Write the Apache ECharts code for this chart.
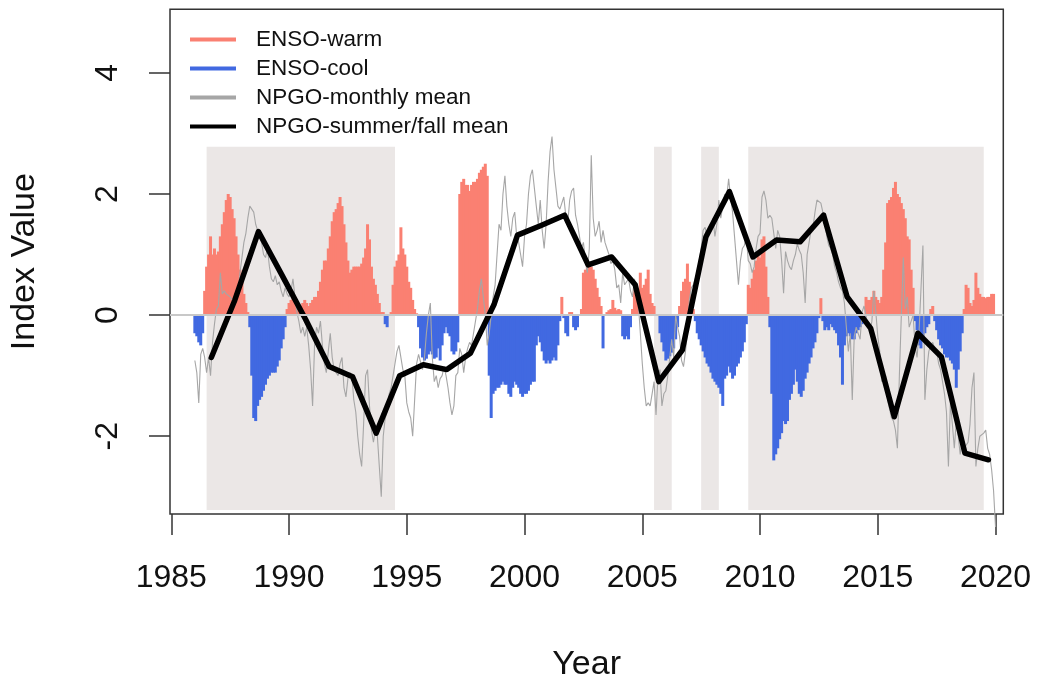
<!DOCTYPE html>
<html><head><meta charset="utf-8">
<script src="https://cdn.jsdelivr.net/npm/echarts@6/dist/echarts.min.js"></script>
<style>html,body{margin:0;padding:0;background:#fff}#c{width:1037px;height:677px}</style>
</head><body><div id="c"></div>
<script>
// ---- data ----
const startYear = 1986;
// ENSO index, monthly (Jan..Dec), one row per year 1986..2019
const ensoMonthly = [
 [-0.3,-0.35,-0.45,-0.5,-0.3,0.4,0.8,1.0,1.3,1.0,1.1,1.0],
 [1.05,1.3,1.5,1.7,1.9,2.0,1.95,1.75,1.6,1.3,1.0,0.75],
 [0.55,0.35,0.2,0.05,-0.2,-1.0,-1.7,-1.75,-1.5,-1.4,-1.35,-1.25],
 [-1.15,-1.05,-1.0,-0.95,-0.95,-0.95,-0.85,-0.75,-0.55,-0.4,-0.2,0.1],
 [0.2,0.25,0.3,0.3,0.2,0.15,0.15,0.2,0.25,0.2,0.15,0.2],
 [0.25,0.3,0.3,0.4,0.55,0.75,0.9,0.9,1.1,1.3,1.55,1.7],
 [1.75,1.85,1.95,1.8,1.5,1.2,0.9,0.7,0.75,0.8,0.8,0.8],
 [0.8,0.85,0.95,1.1,1.5,1.25,0.8,0.6,0.5,0.35,0.2,0.05],
 [0.05,-0.15,-0.2,0.0,0.05,0.5,0.8,0.9,1.0,1.45,1.1,1.0],
 [0.8,0.55,0.45,0.25,0.1,0.03,-0.2,-0.55,-0.7,-0.75,-0.72,-0.65],
 [-0.6,-0.65,-0.72,-0.7,-0.55,-0.75,-0.5,-0.3,-0.2,-0.3,-0.35,-0.6],
 [-0.65,-0.6,-0.45,2.0,2.2,2.25,2.15,2.15,2.05,2.15,2.2,2.2],
 [2.25,2.35,2.4,2.45,2.5,2.3,-1.0,-1.7,-1.3,-1.25,-1.2,-1.2],
 [-1.15,-1.1,-1.15,-1.15,-1.3,-1.35,-1.2,-1.1,-1.15,-1.2,-1.3,-1.35],
 [-1.3,-1.3,-1.25,-1.15,-1.1,-1.1,-0.5,-0.35,-0.45,-0.6,-0.75,-0.8],
 [-0.75,-0.8,-0.75,-0.7,-0.75,-0.5,-0.1,0.3,-0.05,-0.3,-0.35,0.05],
 [0.05,-0.2,-0.25,-0.2,0.0,0.1,0.7,0.75,0.8,0.82,0.8,0.75],
 [0.6,0.45,0.3,0.15,-0.55,0.0,0.05,0.08,0.1,0.25,0.12,0.08],
 [0.1,0.08,-0.35,-0.4,-0.35,-0.4,-0.2,0.1,0.45,0.3,0.3,0.7],
 [0.45,0.5,0.6,0.75,0.35,0.2,0.15,0.0,0.0,-0.3,-0.45,-0.6],
 [-0.75,-0.72,-0.68,-0.62,-0.55,-0.4,-0.2,0.15,0.4,0.55,0.6,0.85],
 [0.55,0.3,0.1,-0.1,-0.3,-0.4,-0.5,-0.6,-0.7,-0.8,-0.85,-0.95],
 [-1.05,-1.1,-1.15,-1.2,-1.3,-1.5,-1.05,-1.0,-0.85,-0.95,-1.05,-1.0],
 [-0.85,-0.8,-0.7,-0.6,-0.45,-0.15,0.5,0.45,0.6,0.75,0.9,1.0],
 [0.95,1.25,1.3,0.8,0.3,-0.2,-1.3,-2.4,-2.3,-2.2,-2.05,-1.95],
 [-1.75,-1.8,-1.75,-1.4,-1.3,-1.15,-0.9,-1.1,-1.3,-1.35,-1.25,-1.05],
 [-0.95,-0.8,-0.7,-0.55,-0.45,-0.3,-0.05,0.28,-0.1,-0.25,-0.2,-0.25],
 [-0.15,-0.2,-0.25,-0.3,-0.5,-0.7,-1.15,-0.5,-0.35,-0.3,-0.35,-0.4],
 [-0.4,-0.3,-0.25,-0.2,-0.15,-0.1,0.3,0.25,0.25,0.3,0.4,0.3],
 [0.25,0.2,0.3,0.75,1.2,1.85,1.9,1.95,2.1,2.2,2.0,1.95],
 [1.85,1.75,1.6,1.3,1.25,0.75,0.45,-0.1,-0.25,-0.5,-0.55,-0.4],
 [-0.3,-0.2,-0.15,0.1,0.15,-0.1,-0.25,-0.4,-0.5,-0.55,-0.65,-0.7],
 [-0.7,-0.75,-0.8,-0.9,-1.2,-0.9,-0.6,-0.3,0.1,0.5,0.45,0.2],
 [0.15,0.25,0.7,0.45,0.35,0.3,0.3,0.28,0.3,0.3,0.35,0.35]
];
// NPGO index, monthly, one row per year 1986..2020
const npgoMonthly = [
 [-0.75,-0.95,-1.45,-0.65,-0.55,-0.7,-0.95,-0.7,-1.0,-0.45,-0.15,0.1],
 [0.15,0.7,0.35,0.4,0.35,0.35,0.3,0.25,0.2,0.3,0.35,0.7],
 [0.95,1.2,1.35,1.6,1.8,1.75,1.7,1.5,1.4,1.3,1.2,1.0],
 [0.95,1.1,0.8,0.6,0.55,0.65,0.5,0.55,0.4,0.3,0.45,0.35],
 [0.3,0.4,0.6,0.3,0.05,-0.1,-0.3,-0.2,-0.35,-0.2,-0.5,-0.9],
 [-1.5,-0.5,-0.2,-0.3,-0.1,-0.5,-0.8,-0.95,-0.6,-0.3,-0.7,-0.9],
 [-0.9,-1.0,-0.8,-0.7,-1.2,-1.35,-1.05,-0.95,-1.0,-1.4,-1.6,-2.0],
 [-2.3,-2.5,-1.8,-1.0,-0.9,-1.5,-1.9,-2.1,-1.9,-2.0,-2.5,-3.0],
 [-2.0,-1.7,-1.6,-1.3,-1.2,-1.0,-0.8,-0.6,-0.5,-0.5,-0.9,-1.0],
 [-1.45,-1.6,-1.7,-2.0,-1.4,-0.8,-0.65,-0.65,-0.9,-0.7,-0.3,0.0],
 [0.2,-0.7,-1.1,-1.0,-1.2,-1.05,-1.0,-0.85,-1.0,-1.2,-1.45,-1.65],
 [-1.5,-1.0,-0.95,-0.55,-0.65,-0.95,-0.7,-0.55,-0.45,-0.5,-0.3,-0.1],
 [0.1,0.4,0.6,0.3,0.0,-0.5,-0.3,0.0,0.3,0.5,1.0,1.5],
 [1.4,2.0,2.3,1.8,1.5,1.3,1.6,1.7,1.3,1.2,1.0,0.8],
 [1.3,1.5,2.0,2.3,2.4,2.1,1.8,1.5,1.9,1.4,1.1,1.5],
 [2.2,2.7,2.95,2.4,2.1,1.8,1.75,1.85,1.95,1.65,1.5,1.9],
 [2.05,2.1,1.65,1.5,1.3,1.1,1.2,0.9,0.7,1.1,2.64,1.6],
 [1.3,1.4,1.55,1.2,1.4,1.2,1.1,1.0,0.85,0.9,0.75,0.45],
 [0.5,0.2,0.7,0.5,0.55,0.6,0.4,0.3,0.6,0.4,0.2,-0.3],
 [-0.8,-1.2,-1.5,-1.45,-1.5,-1.3,-1.1,-1.65,-1.0,-0.9,-1.5,-1.3],
 [-1.25,-1.0,-0.7,-0.4,-0.7,0.0,-0.2,-0.35,-0.75,-0.85,-0.6,-0.3],
 [0.25,0.45,0.5,0.6,0.7,0.9,1.1,1.4,1.45,1.3,1.3,1.4],
 [1.6,1.3,1.5,1.9,1.6,1.6,2.0,1.95,2.25,1.95,1.7,1.3],
 [0.9,0.5,0.9,1.1,1.15,1.3,0.9,0.85,0.7,0.8,1.1,1.3],
 [1.35,1.95,2.05,1.9,1.6,1.65,1.6,1.35,1.1,1.4,1.3,0.9],
 [0.36,1.05,0.9,0.8,0.75,0.9,1.0,1.18,1.07,1.0,0.7,0.2],
 [1.0,1.2,1.4,1.45,1.7,1.9,1.9,1.85,1.7,1.55,1.3,1.15],
 [1.1,1.0,0.8,0.7,0.55,0.45,0.4,0.2,-0.2,-0.6,-0.3,-1.4],
 [-0.35,-0.2,-0.3,-0.4,0.05,0.15,0.0,-0.2,-0.3,-0.1,0.4,0.05],
 [-0.35,-0.6,-1.1,-1.05,-1.0,-1.4,-1.55,-1.7,-1.75,-1.9,-2.2,-1.0],
 [0.0,0.95,0.1,0.3,-0.2,-0.2,0.0,-0.5,-0.7,-0.3,-0.3,1.15],
 [-1.4,-0.9,-0.6,-0.5,-0.45,-0.55,-0.6,-0.8,-0.9,-1.1,-1.3,-1.6],
 [-2.5,-1.45,-1.8,-2.2,-1.75,-2.0,-2.3,-2.05,-2.2,-2.15,-2.1,-1.8],
 [-1.2,-0.95,-2.5,-2.2,-2.0,-2.0,-1.95,-1.9,-2.2,-2.3,-2.55,-2.9],
 [-3.5]
];
// NPGO summer/fall mean, one value per year 1986..2019
const summerFallYears = [1986,1987,1988,1989,1990,1991,1992,1993,1994,1995,1996,1997,1998,1999,2000,2001,2002,2003,2004,2005,2006,2007,2008,2009,2010,2011,2012,2013,2014,2015,2016,2017,2018,2019];
const npgoSummerFall = [-0.70,0.25,1.38,0.66,-0.07,-0.85,-1.02,-1.95,-1.00,-0.82,-0.90,-0.63,0.17,1.32,1.48,1.65,0.83,0.96,0.50,-1.10,-0.58,1.29,2.04,0.96,1.24,1.21,1.65,0.30,-0.22,-1.68,-0.30,-0.69,-2.28,-2.39];
const summerFallOffset = 0.7;
// shaded periods [start, end] in decimal years, and vertical extent of the shading
const shadedPeriods = [[1986.5,1994.5],[2005.5,2006.25],[2007.5,2008.25],[2009.5,2019.5]];
const shadeTop = 2.78, shadeBottom = -3.22;
const xTicks = [1985,1990,1995,2000,2005,2010,2015,2020];
const yTicks = [-2,0,2,4];
const xRange = [1984.945, 2020.33];
const yRange = [-3.285, 5.05];

// ---- build series data ----
const warmData = [], coolData = [], npgoData = [];
ensoMonthly.forEach((row, yi) => row.forEach((v, m) => {
  const t = startYear + yi + m / 12;
  if (v > 0) warmData.push([t, v]); else if (v < 0) coolData.push([t, v]);
}));
npgoMonthly.forEach((row, yi) => row.forEach((v, m) => npgoData.push([startYear + yi + m / 12, v])));
const meanData = summerFallYears.map((y, i) => [y + summerFallOffset, npgoSummerFall[i]]);
const shadeData = shadedPeriods.map(p => [p[0], p[1], shadeTop, shadeBottom]);

const FONT = "'Liberation Sans', Arial, sans-serif";
const chart = echarts.init(document.getElementById('c'), null, {renderer: 'canvas'});
chart.setOption({
  animation: false,
  backgroundColor: '#fff',
  grid: {left: 170, right: 33.7, top: 9.3, bottom: 163, outerBoundsMode: 'none', containLabel: false,
         show: true, borderColor: '#333', borderWidth: 1.5, backgroundColor: 'transparent'},
  legend: {
    orient: 'vertical', left: 185, top: 23, itemWidth: 46, itemHeight: 4, itemGap: 6,
    icon: 'rect',
    textStyle: {fontFamily: FONT, fontSize: 22.5, color: '#111', padding: [0, 0, 0, 15]},
    data: ['ENSO-warm', 'ENSO-cool', 'NPGO-monthly mean', 'NPGO-summer/fall mean']
  },
  xAxis: {
    type: 'value', min: xRange[0], max: xRange[1],
    name: 'Year', nameLocation: 'middle', nameGap: 134,
    nameTextStyle: {fontFamily: FONT, fontSize: 34, color: '#111'},
    axisLine: {show: false, onZero: false},
    axisTick: {show: true, customValues: xTicks, length: 21, lineStyle: {color: '#333', width: 1.5}},
    axisLabel: {customValues: xTicks, margin: 48, fontFamily: FONT, fontSize: 32, color: '#111', formatter: v => String(v)},
    splitLine: {show: false}
  },
  yAxis: {
    type: 'value', min: yRange[0], max: yRange[1],
    name: 'Index Value', nameLocation: 'middle', nameGap: 128, nameRotate: 90,
    nameTextStyle: {fontFamily: FONT, fontSize: 34, color: '#111'},
    axisLine: {show: false, onZero: false},
    axisTick: {show: true, customValues: yTicks, length: 21, lineStyle: {color: '#333', width: 1.5}},
    axisLabel: {customValues: yTicks, rotate: 90, margin: 46, fontFamily: FONT, fontSize: 32, color: '#111', formatter: v => String(v)},
    splitLine: {show: false}
  },
  series: [
    {
      type: 'custom', name: 'shade', z: 1, silent: true,
      data: shadeData,
      renderItem: (params, api) => {
        const p0 = api.coord([api.value(0), api.value(2)]);
        const p1 = api.coord([api.value(1), api.value(3)]);
        return {type: 'rect', shape: {x: p0[0], y: p0[1], width: p1[0] - p0[0], height: p1[1] - p0[1]}, style: {fill: '#EBE7E6'}};
      }
    },
    {
      type: 'bar', name: 'ENSO-warm', z: 2, data: warmData, barWidth: 3, barGap: '-100%',
      itemStyle: {color: '#FA8072'}, silent: true
    },
    {
      type: 'bar', name: 'ENSO-cool', z: 2, data: coolData, barWidth: 3, barGap: '-100%',
      itemStyle: {color: '#4169E1'}, silent: true,
      markLine: {silent: true, symbol: 'none', label: {show: false}, lineStyle: {color: '#C8C8C8', width: 2, type: 'solid'}, data: [{yAxis: 0}]}
    },
    {
      type: 'line', name: 'NPGO-monthly mean', z: 3, data: npgoData, showSymbol: false, clip: false,
      lineStyle: {color: '#A6A6A6', width: 1.1}, itemStyle: {color: '#A6A6A6'}
    },
    {
      type: 'line', name: 'NPGO-summer/fall mean', z: 4, data: meanData, showSymbol: false,
      lineStyle: {color: '#000', width: 5.5, join: 'round', cap: 'round'}, itemStyle: {color: '#000'}
    }
  ]
});
</script></body></html>
